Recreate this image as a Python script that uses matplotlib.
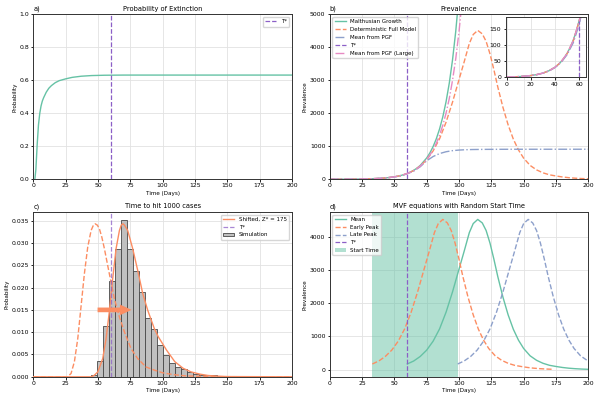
import matplotlib
matplotlib.use("Agg")
import matplotlib.pyplot as plt
from matplotlib.patches import Patch, FancyArrow

# ---------------- colours ----------------
GREEN = '#66c2a5'
ORANGE = '#fc8d62'
BLUE = '#8da0cb'
PINK = '#e78ac3'
PURPLE = '#8b5fc7'

T_STAR = 60

# ---------------- panel a: probability of extinction ----------------
ext_t = [1.2, 2, 3, 4, 5, 6, 7, 8, 10, 12, 14, 17, 20, 25, 30, 37, 45, 55, 70, 200]
ext_p = [0.0, 0.06, 0.21, 0.33, 0.40, 0.445, 0.475, 0.495, 0.528, 0.552, 0.568, 0.586,
         0.598, 0.609, 0.618, 0.625, 0.629, 0.631, 0.632, 0.632]

# ---------------- panel b: prevalence ----------------
malth_t = [0, 5, 10, 15, 20, 25, 30, 35, 40, 42.5, 45, 47.5, 50, 52.5, 55, 57.5, 60,
           62.5, 65, 67.5, 70, 75, 77.5, 80, 82.5, 85, 87.5, 90, 92.5, 95, 97.5, 100, 102.5]
malth_v = [1.0, 1.55, 2.38, 3.66, 5.63, 8.66, 13.3, 20.5, 31.6, 39.2, 48.6, 60.2, 74.7,
           92.7, 115.0, 142.7, 177, 219.6, 272.4, 337.9, 419, 645, 800, 993, 1232, 1528,
           1896, 2352, 2918, 3620, 4490, 5570, 6910]

det_early_t = [0, 5, 10, 15, 20, 25, 30, 35, 40, 45, 50, 55]
det_early_v = [1.0, 1.55, 2.38, 3.65, 5.6, 8.6, 13.2, 20.3, 31.2, 47.9, 73.3, 112]

# epidemic curve (days since start, prevalence) used for the deterministic model
base_s = [0, 5, 10, 15, 20, 25, 30, 35, 40, 44, 48, 51, 54.5, 58, 61, 64, 67, 70, 74,
          78, 82, 86, 90, 95, 100, 105, 110, 115, 120, 125, 130, 135, 140]
base_v = [175, 265, 400, 590, 860, 1230, 1730, 2340, 3020, 3560, 4120, 4390, 4515, 4410,
          4180, 3800, 3320, 2800, 2180, 1650, 1220, 890, 640, 420, 285, 195, 135, 100, 70,
          48, 33, 22, 15]

pgf_t = [0, 5, 10, 15, 20, 25, 30, 35, 40, 45, 50, 55, 60, 65, 70, 75, 80, 85, 90, 95,
         100, 105, 110, 120, 140, 200]
pgf_v = [1.0, 1.55, 2.37, 3.63, 5.57, 8.5, 13.0, 19.9, 30.4, 46.4, 70.5, 107, 165, 250,
         380, 560, 690, 780, 835, 868, 886, 896, 902, 907, 910, 911]

pgfL_t = [0, 5, 10, 15, 20, 25, 30, 35, 40, 45, 50, 55, 60, 62.5, 65, 67.5, 70, 75, 77.5,
          80, 82.5, 85, 87.5, 90, 92.5, 95, 97.5, 100, 102.5, 105]
pgfL_v = [1.0, 1.55, 2.38, 3.66, 5.62, 8.64, 13.3, 20.4, 31.4, 48.2, 74.0, 113.5, 174,
          214, 263, 323, 396, 595, 730, 895, 1095, 1340, 1640, 2005, 2450, 3000, 3660,
          4470, 5450, 6600]

# ---------------- panel c: time to hit 1000 cases ----------------
hit_t = [0, 26.5, 29.2, 31.8, 34.4, 37, 39.5, 42.1, 44.7, 46.5, 47.8, 49.5, 51.1, 53, 55,
         58.8, 62.7, 66.6, 70.4, 75.6, 80.7, 87.2, 93.6, 100, 108, 118, 130, 145, 200]
hit_p = [0, 0, 0.00075, 0.0034, 0.0086, 0.016, 0.0231, 0.0291, 0.0328, 0.0340, 0.0343,
         0.0340, 0.0332, 0.0313, 0.0287, 0.0231, 0.0175, 0.0134, 0.0101, 0.0063, 0.0041,
         0.0022, 0.0015, 0.0009, 0.0005, 0.0002, 0.0001, 0.00003, 0]

shift_t = [0, 44.7, 47, 49.9, 53.7, 56.3, 58.8, 61.4, 64, 66.6, 68, 69.2, 70.5, 73, 76.9,
           80.7, 84.6, 88.5, 93.6, 96.6, 103, 109.4, 115.9, 122, 128.8, 135, 141.6, 150, 200]
shift_p = [0, 0, 0.0003, 0.0011, 0.0041, 0.0086, 0.0146, 0.022, 0.0287, 0.0328, 0.0340,
           0.0343, 0.0340, 0.0328, 0.0287, 0.0239, 0.0187, 0.0149, 0.0108, 0.0090, 0.006,
           0.0034, 0.0019, 0.0011, 0.0006, 0.0003, 0.00015, 0.00005, 0]

Z_STAR = 175
hist_start = 44.7
hist_width = 4.62
hist_heights = [0.0005, 0.0036, 0.0113, 0.0214, 0.0287, 0.0352, 0.0287, 0.0238, 0.0189,
                0.0132, 0.0107, 0.0071, 0.0049, 0.0032, 0.0021, 0.0017, 0.0011, 0.0007,
                0.0005, 0.0004, 0.0003]
arrow_from, arrow_to, arrow_y = 49.7, 76.0, 0.015

# ---------------- panel d: random start time ----------------
start_early, start_mean, start_late = 33, 60, 99
span_lo, span_hi = 33, 99

# ---------------- style ----------------
plt.rcParams.update({
    'font.family': 'DejaVu Sans',
    'font.size': 4.4,
    'axes.titlesize': 4.75,
    'axes.labelsize': 4.1,
    'xtick.labelsize': 4.4,
    'ytick.labelsize': 4.4,
    'legend.fontsize': 4.0,
    'axes.linewidth': 0.7,
    'axes.edgecolor': '#333333',
    'xtick.major.size': 1.8,
    'ytick.major.size': 1.8,
    'xtick.major.width': 0.6,
    'ytick.major.width': 0.6,
    'xtick.major.pad': 1.2,
    'ytick.major.pad': 1.2,
    'axes.grid': True,
    'axes.axisbelow': True,
    'grid.color': '#e2e2e2',
    'grid.linewidth': 0.6,
    'axes.labelpad': 1.5,
    'axes.titlepad': 2.5,
    'legend.handlelength': 2.0,
})

fig, axs = plt.subplots(2, 2, figsize=(6, 4), dpi=100)
fig.subplots_adjust(left=0.0555, right=0.9805, bottom=0.058, top=0.964,
                    wspace=0.146, hspace=0.198)
LW = 1.0

# ---- a ----
ax = axs[0, 0]
ax.plot(ext_t, ext_p, color=GREEN, lw=LW)
ax.axvline(T_STAR, color=PURPLE, ls='--', lw=0.9, label='T*')
ax.set_xlim(0, 200)
ax.set_ylim(0, 1)
ax.set_xlabel('Time (Days)')
ax.set_ylabel('Probability')
ax.set_title('Probability of Extinction')
ax.set_title('a)', loc='left')
ax.legend(loc='upper right')

# ---- b ----
ax = axs[0, 1]
det_t = det_early_t + [T_STAR + s for s in base_s]
det_v = det_early_v + base_v


def draw_prev(a):
    a.plot(malth_t, malth_v, color=GREEN, lw=LW, label='Malthusian Growth')
    a.plot(det_t, det_v, color=ORANGE, ls='--', lw=LW, label='Deterministic Full Model')
    a.plot(pgf_t, pgf_v, color=BLUE, ls='-.', lw=LW, label='Mean from PGF')
    a.axvline(T_STAR, color=PURPLE, ls='--', lw=0.9, label='T*')
    a.plot(pgfL_t, pgfL_v, color=PINK, ls='-.', lw=LW, label='Mean from PGF (Large)')


draw_prev(ax)
ax.set_xlim(0, 200)
ax.set_ylim(0, 5000)
ax.set_xlabel('Time (Days)')
ax.set_ylabel('Prevalence')
ax.set_title('Prevalence')
ax.set_title('b)', loc='left')
ax.legend(loc='upper left')

ins = ax.inset_axes([0.68, 0.618, 0.311, 0.367])
draw_prev(ins)
ins.set_xlim(-0.8, 65.5)
ins.set_ylim(0, 187)
ins.set_xticks([0, 20, 40, 60])
ins.set_yticks([0, 50, 100, 150])

# ---- c ----
ax = axs[1, 0]
edges = [hist_start + i * hist_width for i in range(len(hist_heights))]
ax.bar(edges, hist_heights, width=hist_width, align='edge', color='#c0c0c0',
       edgecolor='#484848', linewidth=0.6, label='Simulation', zorder=2)
ax.plot(hit_t, hit_p, color=ORANGE, ls='--', lw=LW, zorder=3)
ax.plot(shift_t, shift_p, color=ORANGE, lw=LW, label=f'Shifted, Z* = {Z_STAR}', zorder=3)
ax.axvline(T_STAR, color=PURPLE, ls='--', lw=0.9, alpha=0.75, label='T*', zorder=3)
ax.add_patch(FancyArrow(arrow_from, arrow_y, arrow_to - arrow_from, 0, width=0.00105,
                        head_width=0.0024, head_length=9, length_includes_head=True,
                        color=ORANGE, lw=0, zorder=4))
ax.set_xlim(0, 200)
ax.set_xlabel('Time (Days)')
ax.set_ylabel('Probability')
ax.set_title('Time to hit 1000 cases')
ax.set_title('c)', loc='left')
h, l = ax.get_legend_handles_labels()
order = [l.index(f'Shifted, Z* = {Z_STAR}'), l.index('T*'), l.index('Simulation')]
ax.legend([h[i] for i in order], [l[i] for i in order], loc='upper right')

# ---- d ----
ax = axs[1, 1]
ax.axvspan(span_lo, span_hi, color=GREEN, alpha=0.5, lw=0, zorder=1)
ax.plot([start_mean + s for s in base_s], base_v, color=GREEN, lw=LW, label='Mean')
ax.plot([start_early + s for s in base_s], base_v, color=ORANGE, ls='--', lw=LW,
        label='Early Peak')
ax.plot([start_late + s for s in base_s], base_v, color=BLUE, ls='--', lw=LW,
        label='Late Peak')
ax.axvline(T_STAR, color=PURPLE, ls='--', lw=0.9, label='T*')
ax.set_xlim(0, 200)
ax.set_xlabel('Time (Days)')
ax.set_ylabel('Prevalence')
ax.set_title('MVF equations with Random Start Time')
ax.set_title('d)', loc='left')
h, l = ax.get_legend_handles_labels()
h.append(Patch(facecolor=GREEN, alpha=0.5, lw=0))
l.append('Start Time')
ax.legend(h, l, loc='upper left')

fig.savefig('out.png', dpi=100)
